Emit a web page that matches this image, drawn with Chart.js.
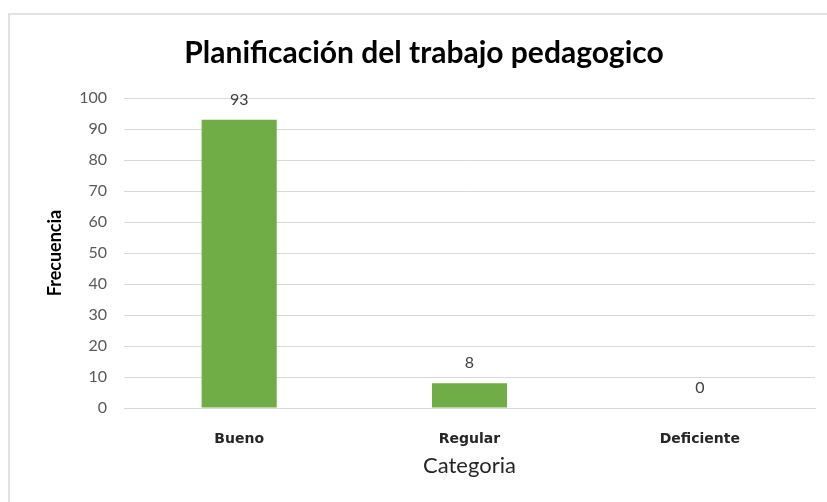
<!DOCTYPE html>
<html>
<head>
<meta charset="utf-8">
<script src="https://cdn.jsdelivr.net/npm/chart.js@4.4.0/dist/chart.umd.min.js"></script>
<style>
  html, body { margin: 0; padding: 0; background: #ffffff; }
  #wrap { position: relative; width: 827px; height: 502px; overflow: hidden; }
  #frame { position: absolute; left: 8px; top: 13px; width: 840px; height: 520px; border: 2px solid #e3e3e3; box-sizing: border-box; }
  #c { position: absolute; left: 0; top: 0; }
</style>
</head>
<body>
<div id="wrap">
  <div id="frame"></div>
  <canvas id="c" width="827" height="502"></canvas>
</div>
<script>
const categories = ['Bueno', 'Regular', 'Deficiente'];
const frecuencia = [93, 8, 0];
const yTicks = [0, 10, 20, 30, 40, 50, 60, 70, 80, 90, 100];
const chartTitle = 'Planificación del trabajo pedagogico';
const xTitle = 'Categoria';
const yTitle = 'Frecuencia';

const FONT = 'Lato, "Open Sans", sans-serif';

const valueLabels = {
  id: 'valueLabels',
  afterDatasetsDraw(chart) {
    const ctx = chart.ctx;
    const meta = chart.getDatasetMeta(0);
    ctx.save();
    ctx.font = '16px ' + FONT;
    ctx.fillStyle = '#404040';
    ctx.textAlign = 'center';
    ctx.textBaseline = 'middle';
    meta.data.forEach((bar, i) => {
      ctx.fillText(String(chart.data.datasets[0].data[i]), bar.x, bar.y - 20);
    });
    ctx.restore();
  }
};

new Chart(document.getElementById('c'), {
  type: 'bar',
  data: {
    labels: categories,
    datasets: [{
      data: frecuencia,
      backgroundColor: '#70ad47',
      borderWidth: 0,
      barPercentage: 0.326,
      categoryPercentage: 1
    }]
  },
  options: {
    responsive: false,
    animation: false,
    layout: { padding: { left: 33, right: 12, top: 0, bottom: 0 } },
    plugins: {
      legend: { display: false },
      tooltip: { enabled: false },
      title: {
        display: true,
        text: chartTitle,
        color: '#000000',
        font: { family: FONT, size: 30, weight: 'bold' },
        padding: { top: 35, bottom: 27 }
      }
    },
    scales: {
      x: {
        grid: { display: false, drawTicks: false },
        border: { display: true, color: '#d9d9d9', width: 1 },
        ticks: { color: '#262626', font: { family: '"DejaVu Sans", sans-serif', size: 14, weight: 'bold' }, padding: 23 },
        title: { display: true, text: xTitle, color: '#262626', font: { family: FONT, size: 22 }, padding: { top: 8, bottom: 23 } },
        afterFit(scale) { scale.height = 94; }
      },
      y: {
        min: 0, max: 100,
        afterBuildTicks(scale) { scale.ticks = yTicks.map(v => ({ value: v })); },
        grid: { color: '#d9d9d9', lineWidth: 1, drawTicks: false },
        border: { display: false },
        ticks: { color: '#595959', font: { family: FONT, size: 16 }, padding: 17 },
        title: { display: true, text: yTitle, color: '#000000', font: { family: FONT, size: 18, weight: 'bold' }, padding: { top: 11, bottom: 0 } },
        afterFit(scale) { scale.width = 91; }
      }
    }
  },
  plugins: [valueLabels]
});
</script>
</body>
</html>
